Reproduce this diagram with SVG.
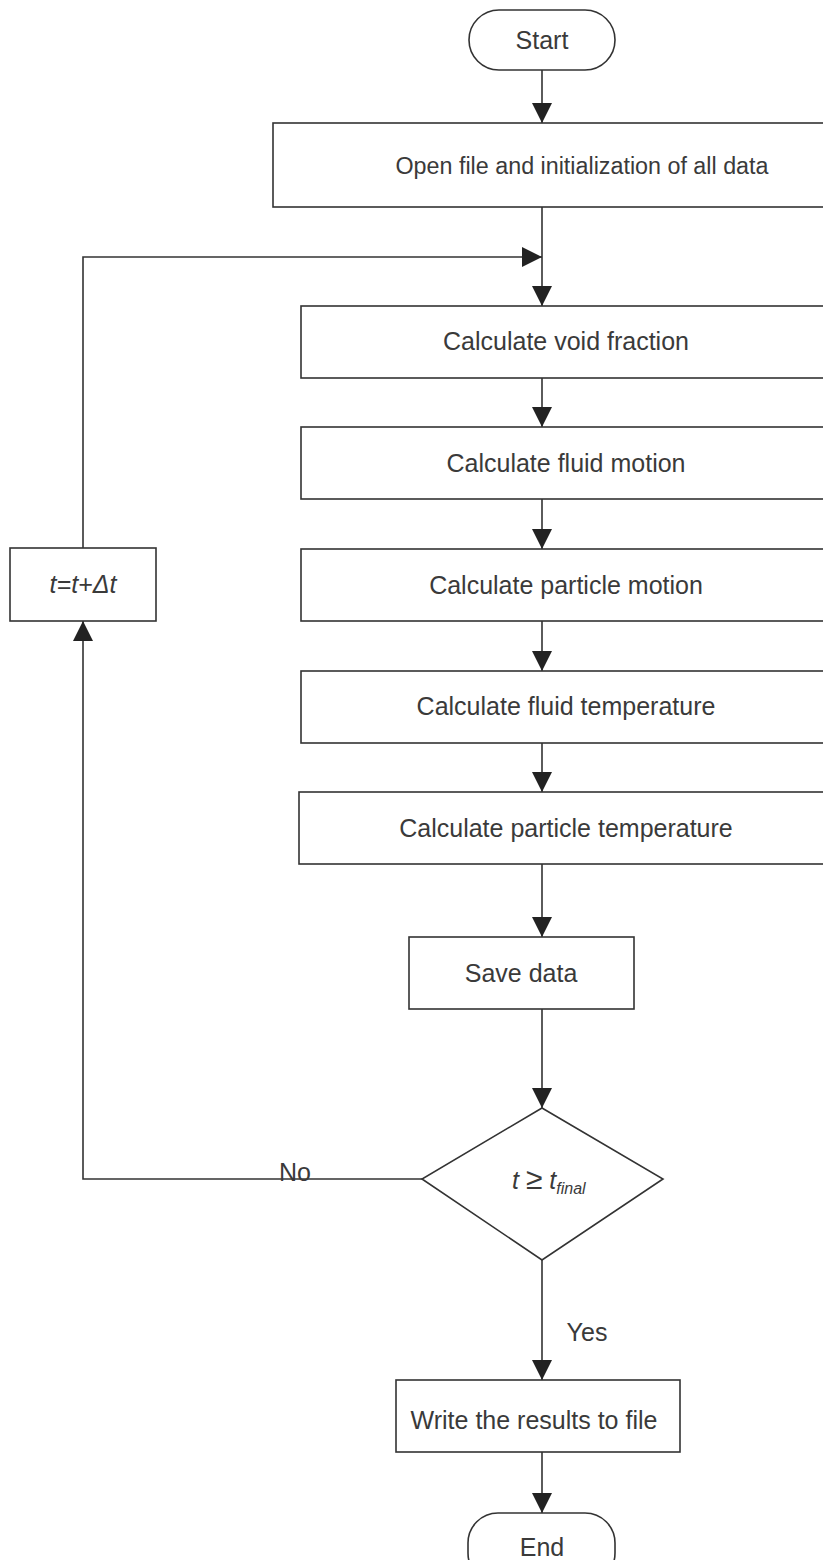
<svg xmlns="http://www.w3.org/2000/svg" width="823" height="1560" viewBox="0 0 823 1560">
<style>
.shape{fill:#fff;stroke:#333;stroke-width:1.6}
.conn{fill:none;stroke:#333;stroke-width:1.6}
.lbl{font-family:"Liberation Sans",Arial,sans-serif;font-size:25px;fill:#3a3a3a;text-anchor:middle}
.it{font-style:italic}
</style>
<defs>
<marker id="ah" markerUnits="userSpaceOnUse" markerWidth="20" markerHeight="20" viewBox="0 0 20 20" refX="20" refY="10" orient="auto">
<path d="M0,0 L20,10 L0,20 Z" fill="#222"/>
</marker>
</defs>
<rect width="823" height="1560" fill="#fff"/>
<g id="connectors">
<line class="conn" x1="542" y1="70" x2="542" y2="123" marker-end="url(#ah)"/>
<line class="conn" x1="542" y1="207" x2="542" y2="306" marker-end="url(#ah)"/>
<polyline class="conn" points="83,548 83,257 542,257" marker-end="url(#ah)"/>
<line class="conn" x1="542" y1="378" x2="542" y2="427" marker-end="url(#ah)"/>
<line class="conn" x1="542" y1="499" x2="542" y2="549" marker-end="url(#ah)"/>
<line class="conn" x1="542" y1="621" x2="542" y2="671" marker-end="url(#ah)"/>
<line class="conn" x1="542" y1="743" x2="542" y2="792" marker-end="url(#ah)"/>
<line class="conn" x1="542" y1="864" x2="542" y2="937" marker-end="url(#ah)"/>
<line class="conn" x1="542" y1="1009" x2="542" y2="1108" marker-end="url(#ah)"/>
<polyline class="conn" points="422,1179 83,1179 83,621" marker-end="url(#ah)"/>
<line class="conn" x1="542" y1="1260" x2="542" y2="1380" marker-end="url(#ah)"/>
<line class="conn" x1="542" y1="1452" x2="542" y2="1513" marker-end="url(#ah)"/>
<text class="lbl" x="295" y="1181">No</text>
<text class="lbl" x="587" y="1341">Yes</text>
</g>
<g id="start">
<rect class="shape" x="469" y="10" width="146" height="60" rx="30"/>
<text class="lbl" x="542" y="49">Start</text>
</g>
<g id="init">
<rect class="shape" x="273" y="123" width="560" height="84"/>
<text class="lbl" x="582" y="174" style="font-size:23.3px">Open file and initialization of all data</text>
</g>
<g id="void">
<rect class="shape" x="301" y="306" width="532" height="72"/>
<text class="lbl" x="566" y="350">Calculate void fraction</text>
</g>
<g id="fluidmotion">
<rect class="shape" x="301" y="427" width="532" height="72"/>
<text class="lbl" x="566" y="472">Calculate fluid motion</text>
</g>
<g id="particlemotion">
<rect class="shape" x="301" y="549" width="532" height="72"/>
<text class="lbl" x="566" y="594">Calculate particle motion</text>
</g>
<g id="fluidtemp">
<rect class="shape" x="301" y="671" width="532" height="72"/>
<text class="lbl" x="566" y="715">Calculate fluid temperature</text>
</g>
<g id="particletemp">
<rect class="shape" x="299" y="792" width="534" height="72"/>
<text class="lbl" x="566" y="837">Calculate particle temperature</text>
</g>
<g id="save">
<rect class="shape" x="409" y="937" width="225" height="72"/>
<text class="lbl" x="521" y="982">Save data</text>
</g>
<g id="decision">
<polygon class="shape" points="542,1108 663,1179 542,1260 422,1179"/>
<text class="lbl it" x="512" y="1189" style="text-anchor:start">t <tspan font-style="normal" font-size="30">≥</tspan> t<tspan font-size="16" dy="5">final</tspan></text>
</g>
<g id="increment">
<rect class="shape" x="10" y="548" width="146" height="73"/>
<text class="lbl it" x="83" y="593">t=t+Δt</text>
</g>
<g id="write">
<rect class="shape" x="396" y="1380" width="284" height="72"/>
<text class="lbl" x="534" y="1429">Write the results to file</text>
</g>
<g id="end">
<rect class="shape" x="468" y="1513" width="147" height="70" rx="30"/>
<text class="lbl" x="542" y="1556">End</text>
</g>
</svg>
